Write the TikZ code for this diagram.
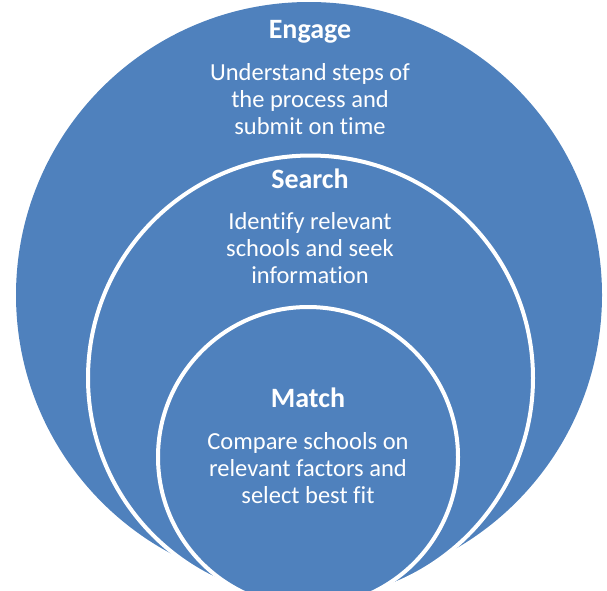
\documentclass[tikz,border=0pt]{standalone}
\usepackage{fontspec}
\setmainfont{Carlito}[Ligatures={NoCommon}]
\definecolor{ringblue}{HTML}{4F81BD}
\begin{document}
\begin{tikzpicture}[x=1pt,y=-1pt,
  disk/.style={circle, fill=ringblue, inner sep=0pt, outer sep=0pt},
  ringdisk/.style={disk, draw=white, line width=4pt},
  head/.style={text=white, font=\fontsize{28}{32}\selectfont\bfseries, anchor=base, inner sep=0pt},
  body/.style={text=white, font=\fontsize{24.5}{26.7}\selectfont, align=center, anchor=base, inner sep=0pt}]
\useasboundingbox (0,0) rectangle (607,590);
\clip (0,0) rectangle (607,590);
\node[disk, minimum size=586pt] (outer) at (309,295) {};
\node[ringdisk, minimum size=445pt] (middle) at (310.5,378) {};
\node[ringdisk, minimum size=300pt] (inner) at (308,457) {};
\node[head] (engage) at (310,38.5) {Engage};
\node[body] (engagetext) at (310,134) {Understand steps of\\the process and\\submit on time};
\node[head] (search) at (310,188) {Search};
\node[body] (searchtext) at (310,283) {Identify relevant\\schools and seek\\information};
\node[head] (match) at (308,407.5) {Match};
\node[body] (matchtext) at (308,503) {Compare schools on\\relevant factors and\\select best fit};
\end{tikzpicture}
\end{document}
